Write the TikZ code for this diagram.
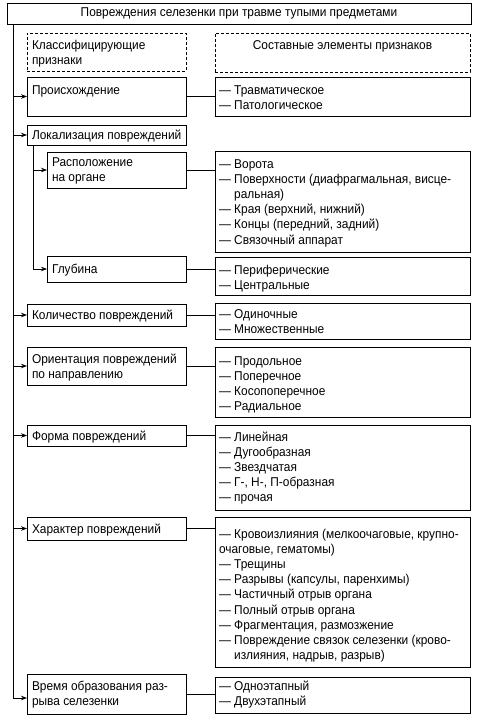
\documentclass[tikz,border=0pt]{standalone}
\usepackage{fontspec}
\setmainfont{Liberation Sans}[FakeStretch=0.93]
\usetikzlibrary{arrows.meta}
\tikzset{
  bx/.style={draw, line width=0.8pt, rectangle, inner sep=0pt, outer sep=0pt},
  dbx/.style={bx, dash pattern=on 3pt off 2pt},
  txt/.style={anchor=base west, inner sep=0pt, outer sep=0pt},
  arr/.style={-{Stealth[length=6pt,width=4.5pt]}, line width=0.8pt},
  ln/.style={line width=0.8pt},
  every node/.style={font=\fontsize{12.8}{15.2}\selectfont},
}
\newcommand\mkbox[6]{\node[#6, minimum width={#4-#2}, minimum height={#5-#3}] (#1) at ({(#2+#4)/2},{(#3+#5)/2}) {};}
\newcommand\lns[1]{\parbox[t]{12cm}{\raggedright #1}}
\begin{document}
\begin{tikzpicture}[x=1pt,y=-1pt]
\useasboundingbox (0,0) rectangle (477,720);
\node[bx, minimum width=464, minimum height=21] (title) at (239,13.5) {Повреждения селезенки при травме тупыми предметами};
\mkbox{dL}{27}{33}{186}{71}{dbx}
\mkbox{dR}{215}{33}{470}{72}{dbx}
\mkbox{b1L}{27}{77}{186}{116}{bx}
\mkbox{b1R}{215}{77}{470}{116}{bx}
\mkbox{b2L}{27}{125}{186}{145}{bx}
\mkbox{b3L}{47}{152}{186}{188}{bx}
\mkbox{b3R}{215}{151}{470}{252}{bx}
\mkbox{b4L}{47}{256}{186}{282}{bx}
\mkbox{b4R}{215}{257}{470}{295}{bx}
\mkbox{b5L}{27}{304}{186}{326}{bx}
\mkbox{b5R}{215}{303}{470}{339}{bx}
\mkbox{b6L}{27}{347}{186}{385}{bx}
\mkbox{b6R}{215}{347}{470}{417}{bx}
\mkbox{b7L}{27}{425}{186}{446}{bx}
\mkbox{b7R}{215}{425}{470}{510}{bx}
\mkbox{b8L}{27}{517}{186}{540}{bx}
\mkbox{b8R}{215}{517}{470}{667}{bx}
\mkbox{b9L}{27}{674}{186}{714}{bx}
\mkbox{b9R}{215}{677}{470}{713}{bx}

\node[txt] (tDL) at (32,49) {\lns{Классифицирующие\\признаки}};
\node[anchor=base, inner sep=0pt] (tDR) at (342.5,49) {Составные элементы признаков};
\node[txt] (t1L) at (32,94) {\lns{Происхождение}};
\node[txt] (t1R) at (219,94) {\lns{— Травматическое\\— Патологическое}};
\node[txt] (t2L) at (32,139) {\lns{Локализация повреждений}};
\node[txt] (t3L) at (52,166) {\lns{Расположение\\на органе}};
\node[txt] (t3R) at (219,168) {\lns{— Ворота\\— Поверхности (диафрагмальная, висце-\\\phantom{— }ральная)\\— Края (верхний, нижний)\\— Концы (передний, задний)\\— Связочный аппарат}};
\node[txt] (t4L) at (52,273) {\lns{Глубина}};
\node[txt] (t4R) at (219,274) {\lns{— Периферические\\— Центральные}};
\node[txt] (t5L) at (32,319) {\lns{Количество повреждений}};
\node[txt] (t5R) at (219,318) {\lns{— Одиночные\\— Множественные}};
\node[txt] (t6L) at (32,363) {\lns{Ориентация повреждений\\по направлению}};
\node[txt] (t6R) at (219,365) {\lns{— Продольное\\— Поперечное\\— Косопоперечное\\— Радиальное}};
\node[txt] (t7L) at (32,440) {\lns{Форма повреждений}};
\node[txt] (t7R) at (219,441) {\lns{— Линейная\\— Дугообразная\\— Звездчатая\\— Г-, Н-, П-образная\\— прочая}};
\node[txt] (t8L) at (32,533) {\lns{Характер повреждений}};
\node[txt] (t8R) at (219,538) {\lns{— Кровоизлияния (мелкоочаговые, крупно-\\очаговые, гематомы)\\— Трещины\\— Разрывы (капсулы, паренхимы)\\— Частичный отрыв органа\\— Полный отрыв органа\\— Фрагментация, размозжение\\— Повреждение связок селезенки (крово-\\\phantom{— }излияния, надрыв, разрыв)}};
\node[txt] (t9L) at (32,690) {\lns{Время образования раз-\\рыва селезенки}};
\node[txt] (t9R) at (219,690) {\lns{— Одноэтапный\\— Двухэтапный}};

\coordinate (spine) at (13,0);
\coordinate (sub) at (33,0);
\coordinate (end9) at ([yshift=-4pt]b9L.west);
\draw[ln] (title.south -| spine) -- (spine |- end9);
\foreach \b in {b1L,b2L,b5L,b6L,b7L,b8L}
  \draw[arr] (spine |- \b.west) -- (\b.west);
\draw[arr] (spine |- end9) -- (end9);
\draw[ln] (b2L.south -| sub) -- (sub |- b4L.west);
\draw[arr] (sub |- b3L.west) -- (b3L.west);
\draw[arr] (sub |- b4L.west) -- (b4L.west);
\foreach \i in {1,3,4,5,6,7,8,9}
  \draw[ln] (b\i L.east) -- (b\i L.east -| b\i R.west);
\end{tikzpicture}
\end{document}
